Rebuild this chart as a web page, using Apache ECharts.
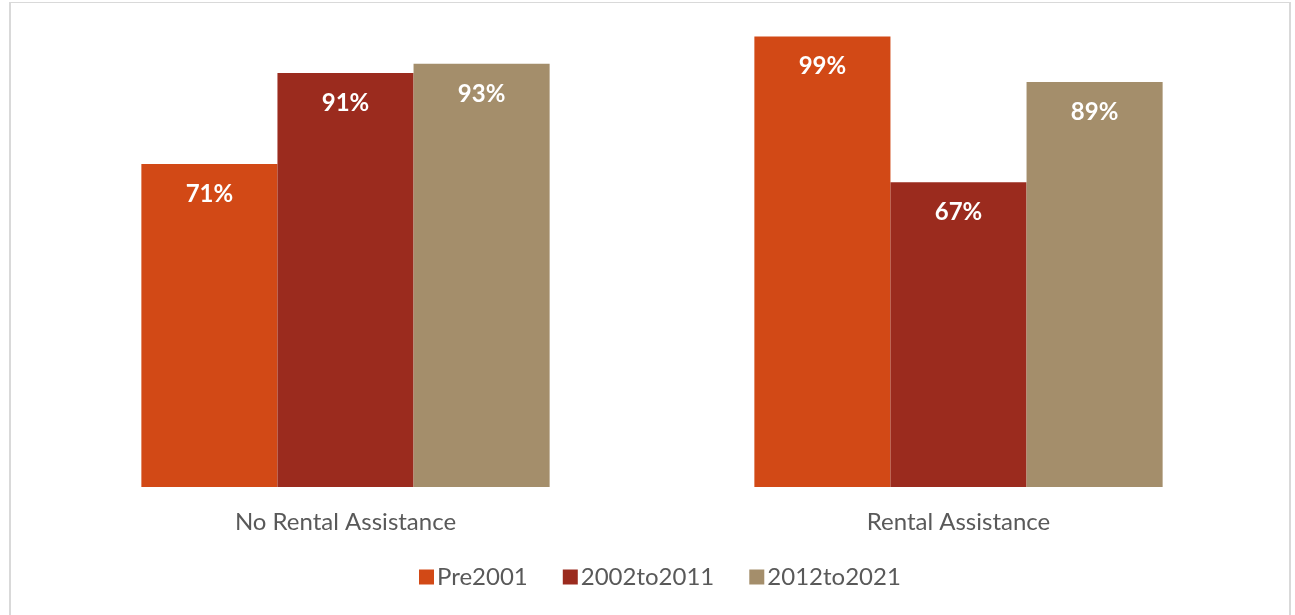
<!DOCTYPE html>
<html>
<head>
<meta charset="utf-8">
<title>Rental Assistance by Period</title>
<script src="https://cdn.jsdelivr.net/npm/echarts@6/dist/echarts.min.js"></script>
<style>
  html, body { margin: 0; padding: 0; background: #ffffff; }
  #frame {
    position: absolute; left: 9px; top: 2px; width: 1282px; height: 640px;
    border-left: 2px solid #d9d9d9; border-top: 1px solid #d9d9d9; border-right: 2px solid #d9d9d9;
    box-sizing: border-box;
  }
  #chart { position: absolute; left: 0; top: 0; width: 1295px; height: 615px; }
</style>
</head>
<body>
<div id="frame"></div>
<div id="chart"></div>
<script>
// Groups along the x axis and one value list per period (percent)
const categories = ['No Rental Assistance', 'Rental Assistance'];
const seriesNames = ['Pre2001', '2002to2011', '2012to2021'];
const pre2001 = [71, 99];
const from2002to2011 = [91, 67];
const from2012to2021 = [93, 89];

const colors = ['#D24916', '#9B2B1E', '#A48E6B'];
const valueLists = [pre2001, from2002to2011, from2012to2021];

const chart = echarts.init(document.getElementById('chart'), null, { renderer: 'canvas' });

const series = seriesNames.map((name, i) => ({
  name: name,
  type: 'bar',
  data: valueLists[i],
  barGap: '0%',
  barCategoryGap: '33.4%',
  itemStyle: { color: colors[i] },
  label: {
    show: true,
    position: 'insideTop',
    distance: 18,
    formatter: p => p.value + '%',
    color: '#ffffff',
    fontFamily: 'Lato',
    fontWeight: 'bold',
    fontSize: 24
  }
}));

chart.setOption({
  backgroundColor: 'transparent',
  animation: false,
  color: colors,
  grid: { left: 39, right: 30, top: 32, bottom: 128 },
  xAxis: {
    type: 'category',
    data: categories,
    axisLine: { show: false },
    axisTick: { show: false },
    axisLabel: {
      color: '#595959',
      fontFamily: 'Lato',
      fontSize: 24,
      margin: 23
    }
  },
  yAxis: {
    type: 'value',
    min: 0,
    max: 100,
    show: false,
    splitLine: { show: false }
  },
  legend: {
    data: seriesNames,
    top: 565,
    left: 419,
    padding: 0,
    icon: 'rect',
    itemWidth: 15,
    itemHeight: 15,
    itemGap: 35,
    textStyle: { color: '#595959', fontFamily: 'Lato', fontSize: 24, padding: [0, 0, 0, -2] }
  },
  series: series
});
</script>
</body>
</html>
